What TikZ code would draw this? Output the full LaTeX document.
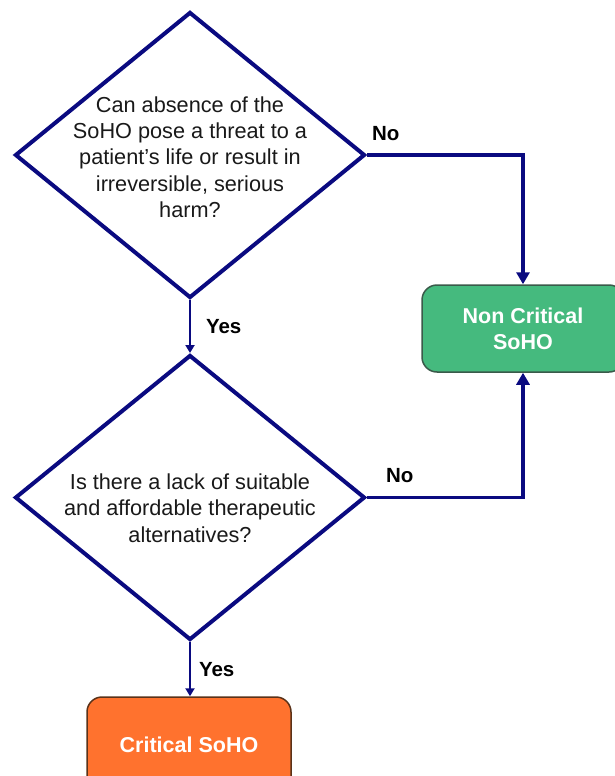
\documentclass[tikz,border=0pt]{standalone}
\usepackage{fontspec}
\setmainfont{Liberation Sans}
\usetikzlibrary{shapes.geometric,arrows.meta,positioning}
\definecolor{linenavy}{RGB}{10,10,128}
\definecolor{boxgreen}{RGB}{69,186,126}
\definecolor{edgegreen}{RGB}{58,90,74}
\definecolor{boxorange}{RGB}{255,114,46}
\definecolor{edgeorange}{RGB}{90,50,25}
\begin{document}
\begin{tikzpicture}[x=1pt, y=-1pt,
  decision/.style = {shape=diamond, draw=linenavy, line width=4pt,
    minimum width=350pt, minimum height=286pt, inner sep=0pt},
  question/.style = {align=center, inner sep=0pt, text=black!90,
    font=\fontsize{21.7pt}{26.3pt}\selectfont},
  outcome/.style = {shape=rectangle, rounded corners=15pt, line width=1.5pt,
    align=center, text=white, inner sep=0pt,
    font=\bfseries\fontsize{21.5pt}{26pt}\selectfont},
  yesline/.style = {draw=linenavy, line width=2pt,
    -{Triangle[length=8pt,width=9pt]}},
  noline/.style = {draw=linenavy, line width=3.5pt,
    -{Triangle[length=12pt,width=13pt]}},
  lbl/.style = {inner sep=0pt, font=\bfseries\fontsize{20.5pt}{24pt}\selectfont}]
  \useasboundingbox (0,0) rectangle (614,776);
  % decisions
  \node[decision] (q1) at (190,155) {};
  \node[question] (q1text) at (190,157) {Can absence of the\\SoHO pose a threat to a\\patient’s life or result in\\irreversible, serious\\harm?};
  \node[decision, minimum height=285pt] (q2) at (190,497.5) {};
  \node[question] (q2text) at (190,508) {Is there a lack of suitable\\and affordable therapeutic\\alternatives?};
  % outcomes
  \node[outcome, draw=edgegreen, fill=boxgreen,
    minimum width=202pt, minimum height=87pt] (ncrit) at (523,328.5) {Non Critical\\SoHO};
  \node[outcome, draw=edgeorange, fill=boxorange,
    minimum width=204pt, minimum height=96pt] (crit) at (189,745) {Critical SoHO};
  % connectors
  \draw[yesline] (q1.south) -- node[lbl, right=15pt] {Yes} (q2.north);
  \draw[yesline] (q2.south) -- node[lbl, right=8pt] {Yes} (crit.north -| q2.south);
  \draw[noline] (q1.east) -- node[lbl, pos=0.12, above=13pt] {No} (q1.east -| ncrit.north) -- (ncrit.north);
  \draw[noline] (q2.east) -- node[lbl, pos=0.21, above=13pt] {No} (q2.east -| ncrit.south) -- (ncrit.south);
\end{tikzpicture}
\end{document}
